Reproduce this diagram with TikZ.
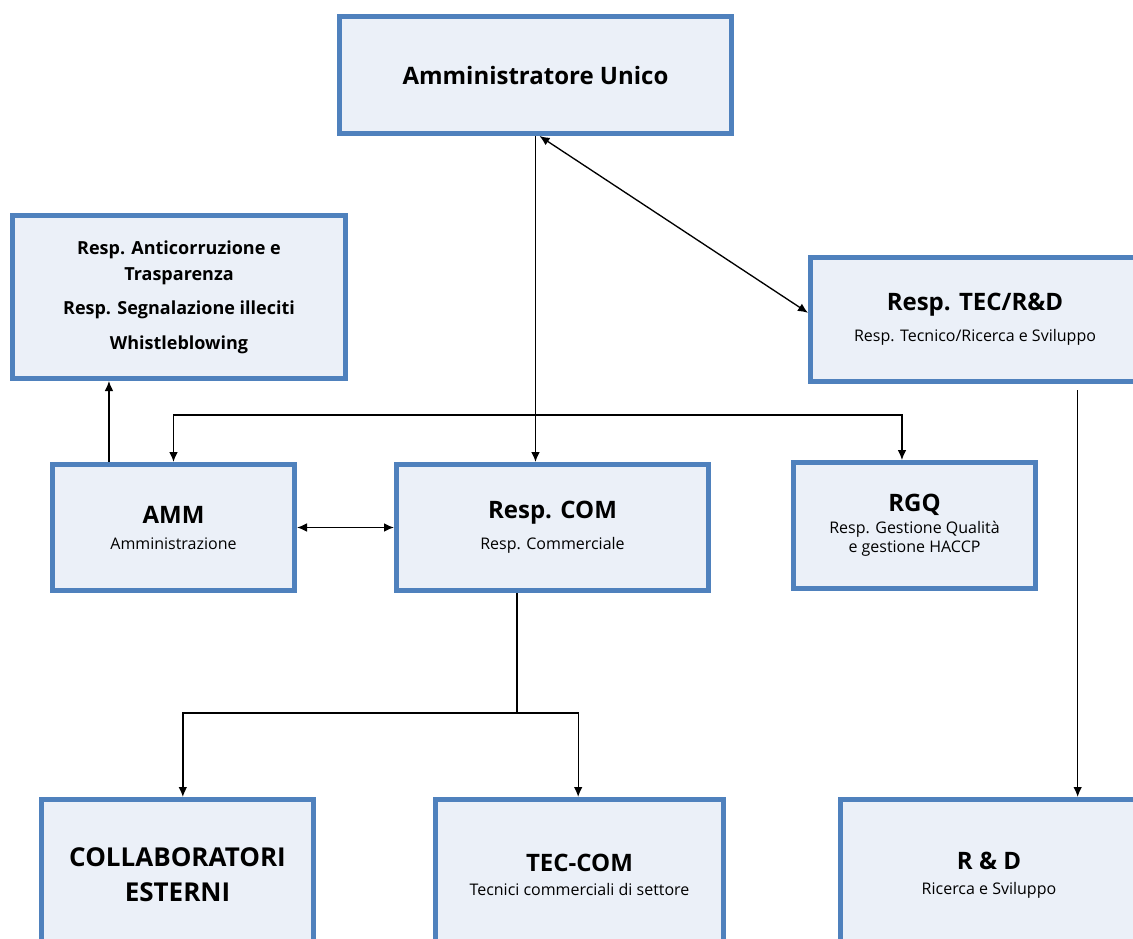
\documentclass[tikz,border=0pt]{standalone}
\usepackage{fontspec}
\setmainfont{Open Sans}
\usetikzlibrary{positioning, arrows.meta}

\definecolor{boxblue}{RGB}{79,129,189}
\definecolor{boxfill}{RGB}{235,240,248}

\newcommand{\bigtitle}[1]{{\fontsize{18}{21}\selectfont\bfseries #1}}
\newcommand{\boxtitle}[1]{{\fontsize{18}{21}\selectfont\bfseries #1}}

\tikzset{
  orgbox/.style={draw=boxblue, line width=3.5pt, fill=boxfill, align=center,
    inner sep=2pt, font=\fontsize{12}{14.5}\selectfont},
  link/.style={line width=1pt, >={Latex[length=7.5pt,width=6.5pt]}}
}

\begin{document}
\begin{tikzpicture}[x=0.75pt, y=-0.75pt]
  \useasboundingbox (0,0) rectangle (1133,939);

  % Vertice
  \node[orgbox, minimum width=294.25pt, minimum height=88pt] (au) at (535.5,75) {\bigtitle{Amministratore Unico}};

  % Funzioni di controllo
  \node[orgbox, minimum width=250pt, minimum height=122.5pt, font=\fontsize{13.5}{19.5}\selectfont\bfseries] (anti) at (179,297)
    {Resp. Anticorruzione e\\Trasparenza\\[6.5pt]Resp. Segnalazione illeciti\\[6.5pt]Whistleblowing};
  \node[orgbox, minimum width=247pt, minimum height=93.25pt] (tec) at (975,319.5)
    {\boxtitle{Resp. TEC/R\&D}\\[9pt]Resp. Tecnico/Ricerca e Sviluppo};

  % Riga centrale
  \node[orgbox, minimum width=181.75pt, minimum height=94.75pt] (amm) at (173.5,527.5)
    {\boxtitle{AMM}\\[5pt]Amministrazione};
  \node[orgbox, right=72.75pt of amm, minimum width=234.25pt, minimum height=94.75pt] (com)
    {\boxtitle{Resp. COM}\\[9pt]Resp. Commerciale};
  \node[orgbox, right=60pt of com, yshift=1.5pt, minimum width=181.75pt, minimum height=94.75pt] (rgq)
    {\boxtitle{RGQ}\\[2pt]Resp. Gestione Qualità\\e gestione HACCP};

  % Riga inferiore
  \node[orgbox, minimum width=204.25pt, minimum height=113.5pt, font=\fontsize{19.5}{22}\selectfont\bfseries] (collab) at (177.5,875)
    {COLLABORATORI\\[4pt]ESTERNI};
  \node[orgbox, right=87.75pt of collab, minimum width=216.25pt, minimum height=113.5pt] (teccom)
    {\boxtitle{TEC-COM}\\[4pt]Tecnici commerciali di settore};
  \node[orgbox, right=84pt of teccom, minimum width=223pt, minimum height=113.5pt] (rd)
    {\boxtitle{R \& D}\\[4pt]Ricerca e Sviluppo};

  % Collegamenti
  \draw[link, ->] (au.south) -- (au.south |- com.north);
  \draw[link, <->] ([xshift=3pt]au.south) -- ([yshift=5pt]tec.west);
  \draw[link, <->] (amm.north) -- ++(0,-47) -| ([xshift=-9.4pt]rgq.north);
  \draw[link, ->] ([xshift=-48.4pt]amm.north) -- ([xshift=-48.4pt]amm.north |- anti.south);
  \draw[link, <->] (amm.east) -- (com.west);

  \coordinate (split) at (517,713);
  \draw[link] (split |- com.south) -- (split);
  \draw[link, ->] (split) -| ([xshift=4pt]collab.north);
  \draw[link, ->] (split) -| ([xshift=-1pt]teccom.north);

  \draw[link, ->] ([xshift=77pt,yshift=-4.5pt]tec.south) -- ([xshift=77pt]tec.south |- rd.north);
\end{tikzpicture}
\end{document}
